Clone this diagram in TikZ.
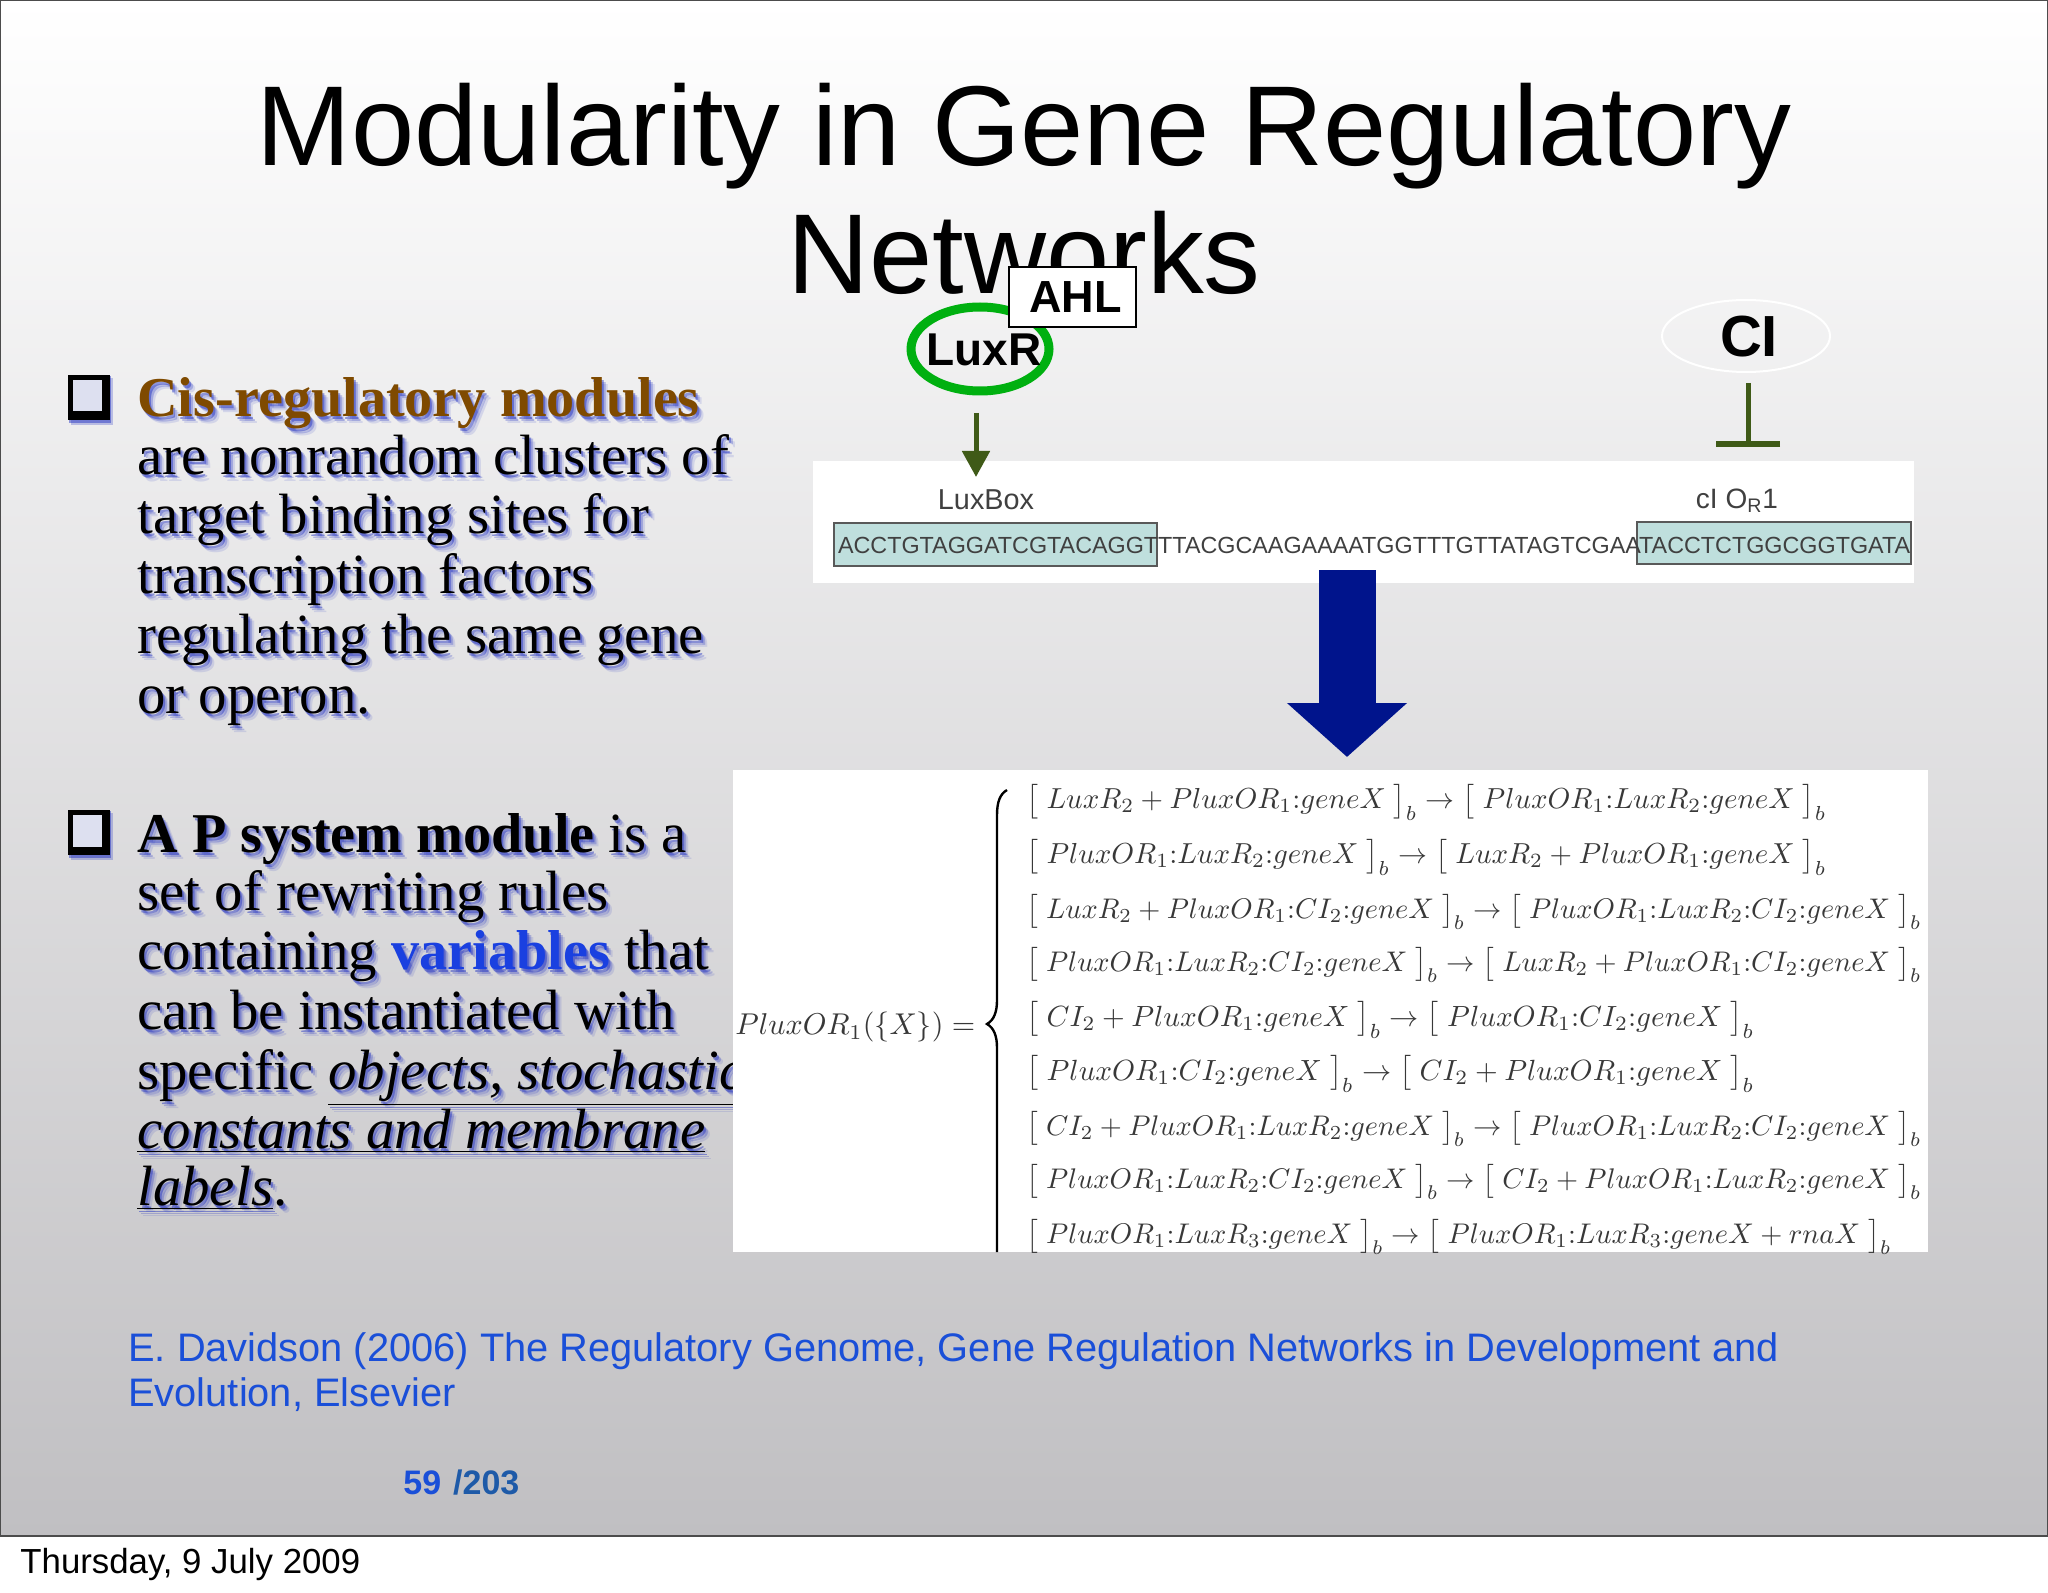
\documentclass[tikz,border=0pt]{standalone}
\usepackage{fontspec}
\usepackage{graphicx}
\setmainfont{Liberation Serif}
\newfontfamily\hv{Liberation Sans}
\usetikzlibrary{arrows.meta,shapes.geometric}
\definecolor{slideb}{HTML}{C0BFC2}
\definecolor{shadowb}{HTML}{1828C0}
\definecolor{cisbrown}{HTML}{7F4A00}
\definecolor{varblue}{HTML}{1A40E0}
\definecolor{refblue}{HTML}{1A4FD8}
\definecolor{pagenum}{HTML}{1E5AA8}
\definecolor{armgreen}{HTML}{3F5A17}
\definecolor{blockblue}{HTML}{00148C}
\definecolor{ringgreen}{HTML}{00B010}
\definecolor{boxteal}{HTML}{BFDFDD}
\definecolor{bulletfill}{HTML}{DDE0F0}
\newif\ifshadowcopy
\newcommand{\tc}[2]{{\ifshadowcopy\else\color{#1}\fi #2}}
\newcommand{\uline}[1]{\underline{#1}}
\newcommand{\bd}[1]{{\fontsize{28.1}{28.1}\selectfont\textbf{#1}}}
\newcommand{\bline}[4]{%
  \shadowcopytrue
  \node[bodytext,text=shadowb,opacity=.12] (#1a) at (#2+6,#3+7) {#4};
  \node[bodytext,text=shadowb,opacity=.25] (#1b) at (#2+4,#3+5) {#4};
  \node[bodytext,text=shadowb,opacity=.45] (#1c) at (#2+2,#3+3) {#4};
  \shadowcopyfalse
  \node[bodytext] (#1) at (#2,#3) {#4};}
\newcommand{\bulletbox}[3]{%
  \fill[shadowb,opacity=.25] (#2+3,#3+3) rectangle (#2+45,#3+50);
  \fill[shadowb,opacity=.45] (#2+1,#3+1) rectangle (#2+43,#3+48);
  \node[bulletstyle] (#1) at (#2,#3) {};}
\newcommand{\eqline}[4]{%
  \node[eqstyle] (#1) at (1026,#2+3) {\resizebox{\dimexpr#3pt/2\relax}{!}{$#4$}};}
\newcommand{\sbr}[1]{\bigl[\;#1\;\bigr]_b}
\tikzset{
  titletext/.style={anchor=base,inner sep=0pt,font=\hv\fontsize{56.8}{56.8}\selectfont},
  bodytext/.style={anchor=base west,inner sep=0pt,font=\fontsize{28.4}{28.4}\selectfont},
  bulletstyle/.style={anchor=north west,draw=black,line width=2.5pt,fill=bulletfill,minimum width=18.5pt,minimum height=20pt,inner sep=0pt,
    path picture={\fill[black] ([xshift=-3pt]path picture bounding box.north east) rectangle (path picture bounding box.south east);
      \fill[black] ([yshift=3pt]path picture bounding box.south west) rectangle (path picture bounding box.south east);}},
  eqstyle/.style={anchor=west,inner sep=0pt,text=black!78},
  labeltext/.style={inner sep=0pt,font=\hv\bfseries\fontsize{23}{23}\selectfont},
  seqtext/.style={inner sep=0pt,text=black!75,font=\hv},
  panel/.style={fill=white,draw=none},
  seqbox/.style={fill=boxteal,draw=black!65,line width=1pt},
}
\begin{document}
\begin{tikzpicture}[x=0.5pt,y=-0.5pt]
\useasboundingbox (0,0) rectangle (2048,1593);
\fill[white] (0,0) rectangle (2048,1593);
\shade[top color=white,bottom color=slideb,draw=black!70,line width=1pt] (0,0) rectangle (2048,1536);
% title
\node[titletext] (title1) at (1024,166) {Modularity in Gene Regulatory};
\node[titletext] (title2) at (1024,294) {Networks};
% left text
\bulletbox{bul1}{68}{375}
\bline{c1}{137}{417}{\bd{\tc{cisbrown}{Cis-regulatory modules}}}
\bline{c2}{137}{474}{are nonrandom clusters of}
\bline{c3}{137}{533}{target binding sites for}
\bline{c4}{137}{593}{transcription factors}
\bline{c5}{137}{653}{regulating the same gene}
\bline{c6}{137}{713}{or operon.}
\bulletbox{bul2}{68}{810}
\bline{d1}{137}{852}{\bd{A P system module} is a}
\bline{d2}{137}{910}{set of rewriting rules}
\bline{d3}{137}{969}{containing \bd{\tc{varblue}{variables}} that}
\bline{d4}{137}{1029}{can be instantiated with}
\bline{d5}{137}{1089}{specific \uline{\textit{objects, stochastic}}}
\bline{d6}{137}{1148}{\uline{\textit{constants and membrane}}}
\bline{d7}{137}{1205}{\uline{\textit{labels}}.}
% sequence panel
\fill[panel] (813,461) rectangle (1914,583);
\draw[seqbox] (834,523) rectangle (1157,566);
\draw[seqbox] (1637,522) rectangle (1911,564);
\node[seqtext] (seq) at (1374,545) {\resizebox{536pt}{!}{ACCTGTAGGATCGTACAGGTTTACGCAAGAAAATGGTTTGTTATAGTCGAATACCTCTGGCGGTGATA}};
\node[seqtext,font=\hv\fontsize{14.4}{14.4}\selectfont] (luxbox) at (986,500) {LuxBox};
\node[seqtext,font=\hv\fontsize{14}{14}\selectfont] (orone) at (1737,501) {cI O\textsubscript{R}1};
% equations panel
\fill[panel] (733,770) rectangle (1928,1252);
\node[eqstyle,anchor=west] (lhs) at (735,1027) {\resizebox{120pt}{!}{$PluxOR_1(\{X\})=$}};
\draw[black,line width=1.2pt] (1007,790) .. controls (1000,794) and (997,802) .. (997,815)
  -- (997,1000) .. controls (997,1012) and (994,1020) .. (987,1024)
  .. controls (994,1028) and (997,1036) .. (997,1048) -- (997,1252);
\eqline{e1}{799}{800}{\sbr{LuxR_2+PluxOR_1{:}geneX}\to\sbr{PluxOR_1{:}LuxR_2{:}geneX}}
\eqline{e2}{854}{800}{\sbr{PluxOR_1{:}LuxR_2{:}geneX}\to\sbr{LuxR_2+PluxOR_1{:}geneX}}
\eqline{e3}{909}{895}{\sbr{LuxR_2+PluxOR_1{:}CI_2{:}geneX}\to\sbr{PluxOR_1{:}LuxR_2{:}CI_2{:}geneX}}
\eqline{e4}{962}{895}{\sbr{PluxOR_1{:}LuxR_2{:}CI_2{:}geneX}\to\sbr{LuxR_2+PluxOR_1{:}CI_2{:}geneX}}
\eqline{e5}{1017}{728}{\sbr{CI_2+PluxOR_1{:}geneX}\to\sbr{PluxOR_1{:}CI_2{:}geneX}}
\eqline{e6}{1071}{728}{\sbr{PluxOR_1{:}CI_2{:}geneX}\to\sbr{CI_2+PluxOR_1{:}geneX}}
\eqline{e7}{1126}{895}{\sbr{CI_2+PluxOR_1{:}LuxR_2{:}geneX}\to\sbr{PluxOR_1{:}LuxR_2{:}CI_2{:}geneX}}
\eqline{e8}{1179}{895}{\sbr{PluxOR_1{:}LuxR_2{:}CI_2{:}geneX}\to\sbr{CI_2+PluxOR_1{:}LuxR_2{:}geneX}}
\eqline{e9}{1234}{865}{\sbr{PluxOR_1{:}LuxR_3{:}geneX}\to\sbr{PluxOR_1{:}LuxR_3{:}geneX+rnaX}}
% LuxR, AHL, CI
\node[draw=ringgreen,line width=4.5pt,ellipse,minimum width=69pt,minimum height=42pt,inner sep=0pt] (luxr) at (980,349) {};
\node[labeltext] (luxrt) at (984,350) {LuxR};
\node[draw=black,line width=1.2pt,fill=white,anchor=north west,minimum width=63.5pt,minimum height=30pt,inner sep=0pt,font=\hv\bfseries\fontsize{22.5}{22.5}\selectfont] (ahl) at (1008,266) {\hspace{3pt}AHL};
\node[draw=white,line width=1pt,ellipse,minimum width=84pt,minimum height=36pt,inner sep=0pt] (ci) at (1746,336) {};
\node[labeltext,font=\hv\bfseries\fontsize{29}{29}\selectfont] (cit) at (1749,337) {CI};
% connectors
\coordinate (a1) at (976,413);
\coordinate (a2) at (976,477);
\draw[armgreen,line width=2.5pt,-{Triangle[length=13pt,width=13.5pt]}] (a1) -- (a2);
\coordinate (b1) at (1748,383);
\coordinate (b2) at (1748,447);
\draw[armgreen,line width=2.5pt,-{Bar[width=32pt,line width=3pt]}] (b1) -- (b2);
\coordinate (f1) at (1347,570);
\coordinate (f2) at (1347,757);
\draw[blockblue,line width=28.5pt,-{Triangle[length=27pt,width=58.5pt]}] (f1) -- (f2);
% footer
\node[anchor=base west,inner sep=0pt,text=refblue,font=\hv\fontsize{19.9}{19.9}\selectfont] (ref1) at (128,1361) {E. Davidson (2006) The Regulatory Genome, Gene Regulation Networks in Development and};
\node[anchor=base west,inner sep=0pt,text=refblue,font=\hv\fontsize{19.9}{19.9}\selectfont] (ref2) at (128,1406) {Evolution, Elsevier};
\node[anchor=base west,inner sep=0pt,font=\hv\bfseries\fontsize{17}{17}\selectfont] (pg) at (403,1494) {\textcolor{refblue}{59}\hspace{6pt}\textcolor{pagenum}{/203}};
\node[anchor=base west,inner sep=0pt,font=\hv\fontsize{17.4}{17.4}\selectfont] (date) at (20,1573) {Thursday, 9 July 2009};
\end{tikzpicture}
\end{document}
